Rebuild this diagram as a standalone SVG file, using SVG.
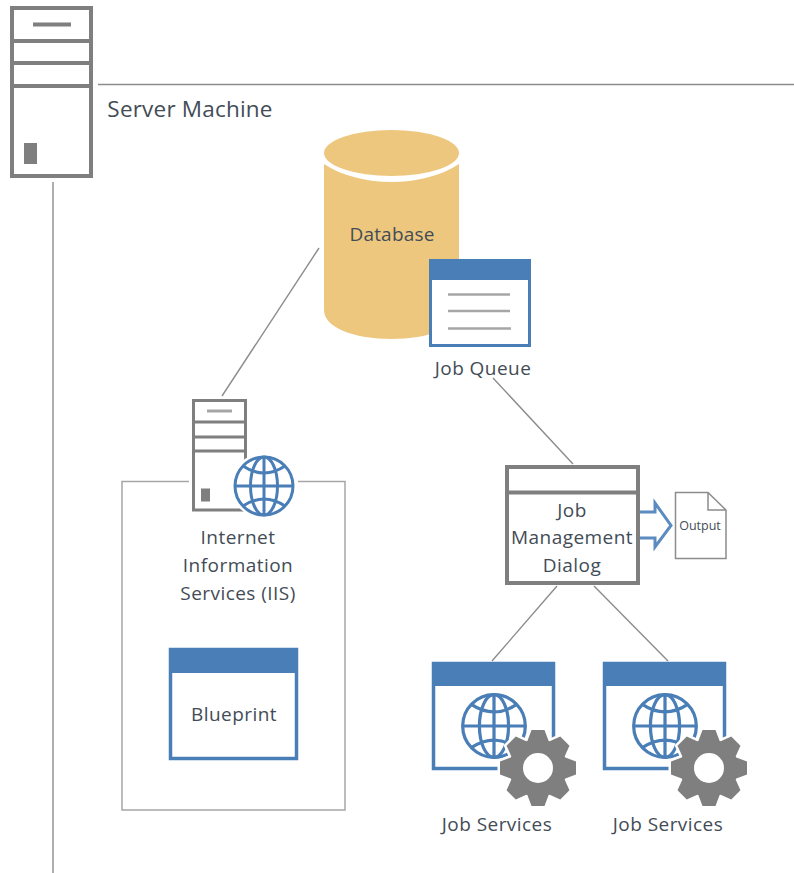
<svg xmlns="http://www.w3.org/2000/svg" width="794" height="873" viewBox="0 0 794 873">
<style>
text{font-family:"Open Sans","Noto Sans","Liberation Sans",sans-serif;fill:#434c56;text-anchor:middle;font-size:19px;letter-spacing:.45px}
.srv{fill:#fff;stroke:#7f7f7f}
.conn{fill:none;stroke:#8c8c8c;stroke-width:1.4}
.win{fill:#fff;stroke:#4a7eb7}
.hdr{fill:#4a7eb7}
.glb{fill:none;stroke:#4a7eb7;stroke-width:3}
.halo{fill:#fff;stroke:#fff;stroke-width:5}
.gear{fill:#7f7f7f}
</style>
<defs>
<g id="globe">
<circle r="29"/><path d="M-29,0H29M0,-29V29"/><ellipse rx="13.500" ry="29"/>
<path d="M-21,-20Q0,-6 21,-20M-21,20Q0,6 21,20"/>
</g>
<g id="gearShape">
<circle r="29"/>
<g id="tooth2"><polygon points="-11,-26 -6.500,-38 6.500,-38 11,-26"/><polygon points="-11,26 -6.500,38 6.500,38 11,26"/></g>
<use href="#tooth2" transform="rotate(45)"/><use href="#tooth2" transform="rotate(90)"/><use href="#tooth2" transform="rotate(135)"/>
</g>
<g id="gearFull">
<use href="#gearShape" class="halo"/><use href="#gearShape" class="gear"/><circle r="15" fill="#fff"/>
</g>
</defs>
<g id="connectors">
<path class="conn" d="M98,84.5H794"/>
<path class="conn" d="M53,182V873"/>
<path class="conn" d="M319,248L222,396"/>
<path class="conn" d="M493,378L573,464"/>
<path class="conn" d="M557,586L492,661"/>
<path class="conn" d="M594,586L668,661"/>
</g>
<g id="server-machine">
<rect class="srv" x="12" y="8" width="79" height="168" stroke-width="4"/>
<path class="srv" stroke-width="4" d="M12,41H91M12,63H91M12,86H91M33,24.5H71"/>
<rect x="24" y="143" width="13" height="21" fill="#7f7f7f"/>
<text x="190" y="117" style="font-size:22.5px;letter-spacing:.2px">Server Machine</text>
</g>
<g id="database">
<ellipse cx="391.500" cy="153" rx="67.500" ry="23" fill="#eec77e"/>
<path fill="#eec77e" d="M324,164C342,176 368,182 391.500,182S441,176 459,164V310C459,328 428,339 391.500,339S324,328 324,310Z"/>
<text x="392" y="241" style="letter-spacing:.2px">Database</text>
</g>
<g id="job-queue">
<rect class="win" x="430.500" y="260.500" width="99" height="85" stroke-width="3"/>
<rect class="hdr" x="429" y="259" width="102" height="21"/>
<path fill="none" stroke="#a6a6a6" stroke-width="2.500" d="M448,294.500H510M448,311H510M448,328.500H511"/>
<text x="483" y="375">Job Queue</text>
</g>
<g id="iis-box">
<path fill="none" stroke="#a6a6a6" stroke-width="1.500" d="M189,481.500H122V810H345V481.500H298"/>
</g>
<g id="iis">
<rect class="srv" x="193.500" y="400.500" width="52" height="109.500" stroke-width="3"/>
<path class="srv" stroke-width="3" d="M193,422H246M193,437H246M193,451H246"/>
<path stroke="#a6a6a6" stroke-width="3" d="M207,411H232"/>
<rect x="201" y="488.500" width="9" height="13" fill="#7f7f7f"/>
<circle cx="264" cy="486" r="33" fill="#fff"/>
<use href="#globe" class="glb" transform="translate(264,486)"/>
<text x="238" y="544">Internet</text>
<text x="238" y="572">Information</text>
<text x="238" y="600">Services (IIS)</text>
</g>
<g id="blueprint">
<rect class="win" x="170.500" y="649.500" width="126" height="109" stroke-width="3.500"/>
<rect class="hdr" x="169" y="648" width="129" height="25"/>
<text x="234" y="721">Blueprint</text>
</g>
<g id="job-management-dialog">
<rect class="srv" x="507" y="467" width="131" height="116" stroke-width="4"/>
<path class="srv" stroke-width="4" d="M507,492.500H638"/>
<text x="572" y="517">Job</text>
<text x="572" y="544">Management</text>
<text x="572" y="572">Dialog</text>
</g>
<path id="output-arrow" fill="none" stroke="#5b8bc0" stroke-width="3" d="M640,512H655V503L671,525.500L655,547V538H640"/>
<g id="output">
<path fill="#fff" stroke="#8c8c8c" stroke-width="1.500" d="M675.500,492.500H708L726,510V558.500H675.500ZM708,492.500V510H726"/>
<text x="700" y="530" style="font-size:12.5px;letter-spacing:0">Output</text>
</g>
<g id="job-services-1">
<rect class="win" x="433.500" y="663.500" width="120" height="105" stroke-width="3.500"/>
<rect class="hdr" x="432" y="662" width="123" height="24"/>
<use href="#globe" class="glb" transform="translate(494,726) scale(1.08)"/>
<use href="#gearFull" transform="translate(538,768)"/>
<text x="497" y="831">Job Services</text>
</g>
<g id="job-services-2">
<rect class="win" x="604.500" y="663.500" width="120" height="105" stroke-width="3.500"/>
<rect class="hdr" x="603" y="662" width="123" height="24"/>
<use href="#globe" class="glb" transform="translate(665,726) scale(1.08)"/>
<use href="#gearFull" transform="translate(709,768)"/>
<text x="668" y="831">Job Services</text>
</g>
</svg>
